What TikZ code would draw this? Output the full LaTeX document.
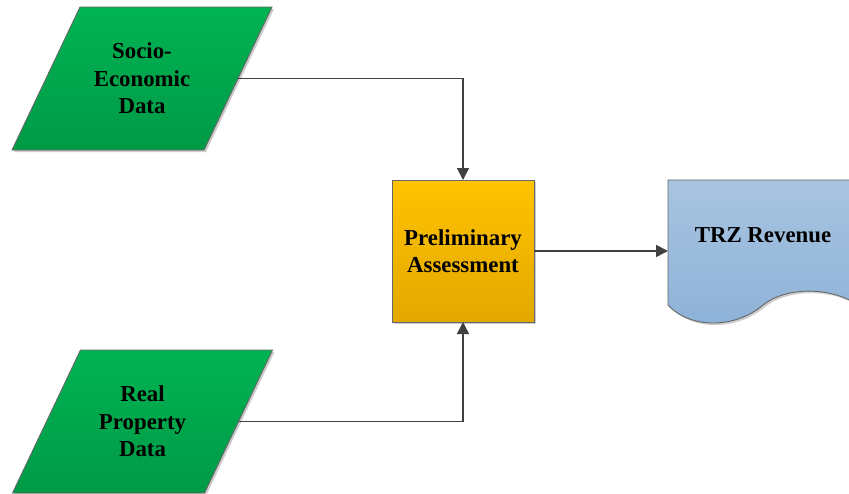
\documentclass[tikz,border=0pt]{standalone}
\usepackage{fontspec}
\setmainfont{Liberation Serif}
\usepackage{tikz}
\usetikzlibrary{shapes,arrows.meta,positioning,shadows,backgrounds}
\usepackage{xcolor}

\definecolor{dataTop}{HTML}{00B352}
\definecolor{dataBot}{HTML}{009A47}
\definecolor{stepTop}{HTML}{FFC300}
\definecolor{stepBot}{HTML}{E2A800}
\definecolor{docTop}{HTML}{A8C4E0}
\definecolor{docBot}{HTML}{8DB2D8}
\definecolor{lineGray}{HTML}{404040}

% rownoleglobok wokol wezla z danymi
\newcommand{\databox}[1]{%
  \path[box, top color=dataTop, bottom color=dataBot]
    ([xshift=0.68cm]#1.north west) -- ([xshift=0.68cm]#1.north east) --
    ([xshift=-0.68cm]#1.south east) -- ([xshift=-0.68cm]#1.south west) -- cycle;}

\begin{document}
\begin{tikzpicture}[
    font=\fontsize{13}{15.6}\selectfont\bfseries,
    box/.style={draw=lineGray!80, line width=0.5pt, drop shadow={shadow xshift=0.04cm, shadow yshift=-0.04cm, fill=black!40, opacity=0.5}},
    datain/.style={rectangle, minimum width=3.84cm, minimum height=2.86cm,
      inner sep=0pt, outer sep=0pt, align=center},
    process/.style={box, rectangle, minimum width=2.84cm, minimum height=2.84cm,
      inner sep=0pt, outer sep=0pt, top color=stepTop, bottom color=stepBot, align=center},
    flow/.style={draw=lineGray, line width=0.85pt, -{Triangle[length=0.24cm, width=0.24cm]}}
  ]
  \useasboundingbox (0,0) rectangle (16.98,9.86);

  % Dane wejsciowe
  \node[datain] (socio) at (2.84,8.29) {Socio-\\Economic\\Data};
  \node[datain] (real) at (2.85,1.43) {Real\\Property\\Data};
  \begin{scope}[on background layer]
    \databox{socio}
    \databox{real}
  \end{scope}

  % Ocena
  \node[process] (prelim) at (9.26,4.84) {Preliminary\\Assessment};

  % Dokument
  \path[box, top color=docTop, bottom color=docBot]
    (13.36,6.26) -- (17.16,6.26) -- (17.16,3.76)
    .. controls (16.62,4.13) and (15.72,4.13) .. (15.26,3.76)
    .. controls (14.7,3.28) and (13.8,3.28) .. (13.36,3.76) -- cycle;
  \node (rev) at (15.26,5.16) {TRZ Revenue};
  \coordinate (revin) at (13.36,4.84);

  % Strzalki
  \draw[flow] (socio.east) -| (prelim.north);
  \draw[flow] (real.east) -| (prelim.south);
  \draw[flow] (prelim.east) -- (revin);
\end{tikzpicture}
\end{document}
